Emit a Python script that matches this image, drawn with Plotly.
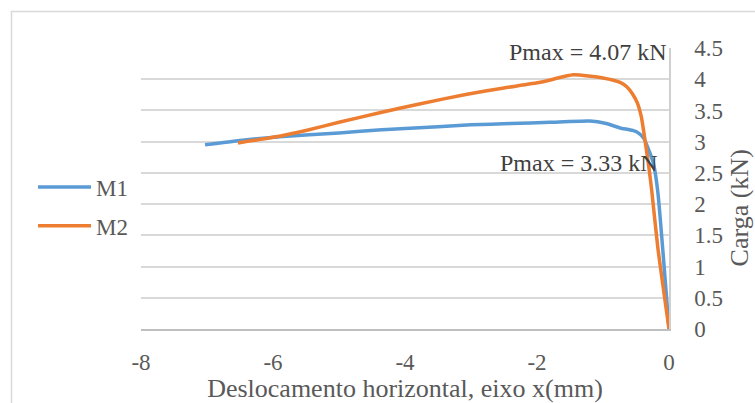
import plotly.graph_objects as go

# Load-displacement curves (horizontal displacement along x, in mm; load in kN)
m1_disp = [-7.03, -6.5, -5.9, -5.0, -4.35, -3.5, -3.0, -2.4, -1.8, -1.2, -0.95,
           -0.74, -0.55, -0.45, -0.38, -0.32, -0.24, -0.17, 0.0]
m1_load = [2.95, 3.02, 3.08, 3.14, 3.19, 3.24, 3.27, 3.29, 3.31, 3.33, 3.29,
           3.22, 3.18, 3.13, 3.05, 2.90, 2.67, 2.20, 0.0]

m2_disp = [-6.53, -6.0, -5.5, -5.0, -4.4, -3.8, -3.06, -2.5, -1.95, -1.45, -1.0,
           -0.74, -0.64, -0.55, -0.48, -0.42, -0.36, -0.30, -0.26, -0.17, 0.0]
m2_load = [2.98, 3.07, 3.18, 3.31, 3.46, 3.60, 3.76, 3.86, 3.95, 4.07, 4.02,
           3.95, 3.88, 3.76, 3.62, 3.40, 3.00, 2.55, 2.20, 1.31, 0.0]

x_tick_vals = [-8, -6, -4, -2, 0]
x_tick_text = ["-8", "-6", "-4", "-2", "0"]

pmax_m1 = 3.33
pmax_m2 = 4.07

FONT = "Liberation Serif, Times New Roman, serif"
TEXT = "#595959"

fig = go.Figure()
fig.add_trace(go.Scatter(
    x=m1_disp, y=m1_load, name="M1", mode="lines",
    line=dict(color="#5B9BD5", width=3.5, shape="spline", smoothing=0.5),
    legendgroup="m1",
))
fig.add_trace(go.Scatter(
    x=m2_disp, y=m2_load, name="M2", mode="lines",
    line=dict(color="#ED7D31", width=3.5, shape="spline", smoothing=0.5),
    legendgroup="m2",
))

fig.add_annotation(
    x=0, y=4.44, xref="x", yref="y", xanchor="right", yanchor="middle",
    text=f"Pmax = {pmax_m2:.2f} kN", showarrow=False,
    font=dict(family=FONT, size=24, color="#404040"),
)
fig.add_annotation(
    x=-0.14, y=2.66, xref="x", yref="y", xanchor="right", yanchor="middle",
    text=f"Pmax = {pmax_m1:.2f} kN", showarrow=False,
    font=dict(family=FONT, size=24, color="#404040"),
)

# Vertical axis title, placed beside the right-hand tick labels
fig.add_annotation(
    x=1.133, y=0.43, xref="paper", yref="paper", xanchor="center", yanchor="middle",
    text="Carga (kN)", textangle=-90, showarrow=False,
    font=dict(family=FONT, size=26, color=TEXT),
)

# Chart-area frame
fig.add_shape(
    type="rect", xref="paper", yref="paper",
    x0=-0.2453, x1=1.5, y0=-0.5, y1=1.1299,
    line=dict(color="#d9d9d9", width=1.5), fillcolor="rgba(0,0,0,0)", layer="below",
)

fig.update_layout(
    width=755, height=403,
    margin=dict(l=141, r=86, t=48, b=74, autoexpand=False),
    paper_bgcolor="white", plot_bgcolor="white",
    font=dict(family=FONT, size=23, color=TEXT),
    showlegend=True,
    legend=dict(
        x=-0.2045, y=0.582, xanchor="left", yanchor="top",
        font=dict(family=FONT, size=23, color=TEXT),
        bgcolor="rgba(0,0,0,0)", tracegroupgap=6, itemwidth=53,
    ),
    xaxis=dict(
        range=[-8, 0], tickvals=x_tick_vals, ticktext=x_tick_text,
        showgrid=False, zeroline=False, showline=True, linecolor="#bfbfbf", linewidth=1.5,
        ticks="", ticklabelstandoff=12, automargin=False,
        tickfont=dict(family=FONT, size=23, color=TEXT),
        title=dict(text="Deslocamento horizontal, eixo x(mm)", standoff=11,
                   font=dict(family=FONT, size=26, color=TEXT)),
    ),
    yaxis=dict(
        range=[0, 4.5], dtick=0.5, side="right",
        showgrid=True, gridcolor="#d9d9d9", gridwidth=1.5,
        zeroline=False, showline=True, linecolor="#d0d0d0", linewidth=1.5,
        ticks="", ticklabelstandoff=19, automargin=False,
        tickfont=dict(family=FONT, size=23, color=TEXT),
    ),
)

fig.write_html("out.html")
